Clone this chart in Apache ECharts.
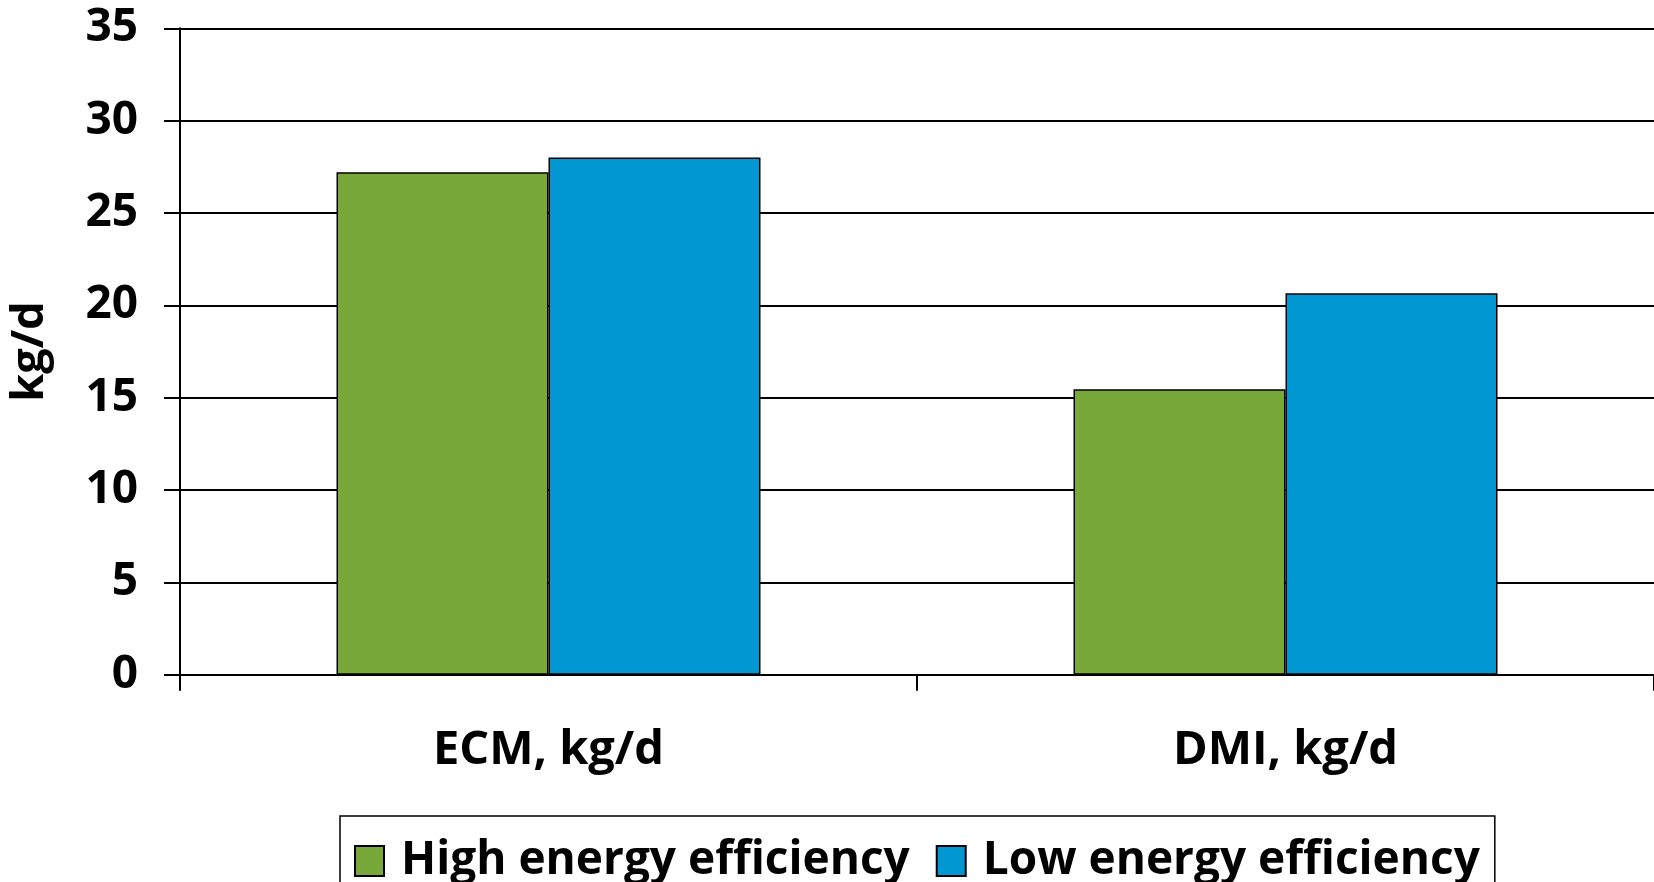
<!DOCTYPE html>
<html>
<head>
<meta charset="utf-8">
<script src="https://cdn.jsdelivr.net/npm/echarts@6/dist/echarts.min.js"></script>
<style>
  html, body { margin: 0; padding: 0; background: #ffffff; }
  #chart { width: 1654px; height: 882px; }
</style>
</head>
<body>
<div id="chart"></div>
<script>
// Daily yield and intake by energy-efficiency group
const categories = ['ECM, kg/d', 'DMI, kg/d'];
const seriesNames = ['High energy efficiency', 'Low energy efficiency'];
const highEfficiency = [27.2, 15.45];
const lowEfficiency = [28.0, 20.65];
const yTicks = { min: 0, max: 35, step: 5 };
const yAxisTitle = 'kg/d';

const FONT = 'Open Sans';
const chart = echarts.init(document.getElementById('chart'), null, { renderer: 'canvas' });

const barStyle = (color) => ({
  color: color,
  borderColor: '#000000',
  borderWidth: 1.5
});

chart.setOption({
  animation: false,
  backgroundColor: '#ffffff',
  textStyle: { fontFamily: FONT },
  grid: { left: 180, top: 28.3, right: -4, bottom: 207.3, containLabel: false },
  legend: {
    data: seriesNames,
    left: 340,
    top: 816,
    orient: 'horizontal',
    padding: [22, 15, 60, 14],
    itemGap: 26,
    itemWidth: 29,
    itemHeight: 30,
    borderColor: '#000000',
    borderWidth: 1.5,
    icon: 'rect',
    textStyle: {
      fontFamily: FONT,
      fontWeight: 'bold',
      fontSize: 46,
      color: '#000000',
      padding: [0, 0, 0, 12]
    }
  },
  xAxis: {
    type: 'category',
    data: categories,
    axisLine: { show: true, lineStyle: { color: '#000000', width: 2 } },
    axisTick: { show: true, alignWithLabel: false, length: 16, lineStyle: { color: '#000000', width: 2 } },
    axisLabel: {
      margin: 52,
      fontFamily: FONT,
      fontWeight: 'bold',
      fontSize: 47,
      color: '#000000'
    },
    splitLine: { show: false }
  },
  yAxis: {
    type: 'value',
    min: yTicks.min,
    max: yTicks.max,
    interval: yTicks.step,
    name: yAxisTitle,
    nameLocation: 'middle',
    nameRotate: 90,
    nameGap: 127,
    nameTextStyle: {
      fontFamily: FONT,
      fontWeight: 'bold',
      fontSize: 45,
      color: '#000000'
    },
    axisLine: { show: true, lineStyle: { color: '#000000', width: 2 } },
    axisTick: { show: true, length: 16, lineStyle: { color: '#000000', width: 2 } },
    axisLabel: {
      margin: 42,
      fontFamily: FONT,
      fontWeight: 'bold',
      fontSize: 46,
      color: '#000000'
    },
    splitLine: { show: true, lineStyle: { color: '#000000', width: 2 } }
  },
  series: [
    {
      name: seriesNames[0],
      type: 'bar',
      data: highEfficiency,
      barWidth: 212,
      barGap: '0%',
      itemStyle: barStyle('#78a83a')
    },
    {
      name: seriesNames[1],
      type: 'bar',
      data: lowEfficiency,
      barWidth: 212,
      barGap: '0%',
      itemStyle: barStyle('#0097d3')
    }
  ]
});
</script>
</body>
</html>
